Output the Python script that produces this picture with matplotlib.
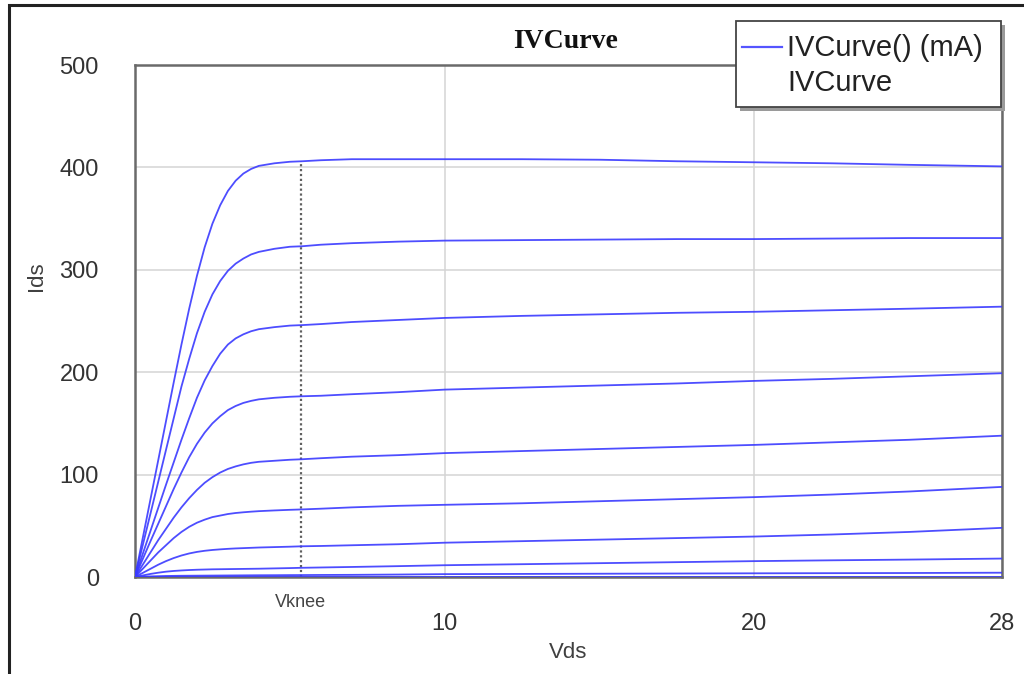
import matplotlib
matplotlib.use("Agg")
import matplotlib.pyplot as plt
from matplotlib.patches import Rectangle
from matplotlib.lines import Line2D

# ---------------- data ----------------
vds = [0, 0.25, 0.5, 0.75, 1, 1.25, 1.5, 1.75, 2, 2.25, 2.5, 2.75, 3, 3.25, 3.5, 3.75,
       4, 4.5, 5, 5.4, 6, 7, 8.5, 10, 12.5, 15, 17.5, 20, 22.5, 25, 28]

ids_1 = [0, 38, 76, 114, 152, 190, 227, 262, 294, 322, 345, 363, 377, 387, 394, 398.5,
         401.5, 404, 405.5, 406, 407, 408, 408, 408, 408, 407.5, 406, 405, 404, 402.5, 401]
ids_2 = [0, 31, 62, 93, 124, 155, 186, 213, 238, 259, 276, 289, 299, 306, 311, 315,
         317.5, 320.5, 322.5, 323, 324.5, 326, 327.5, 328.5, 329, 329.5, 330, 330, 330.5, 331, 331]
ids_3 = [0, 22.5, 45, 67.5, 90, 112, 134, 155, 175, 192, 206, 218, 227, 233, 237, 240,
         242, 244, 245.5, 246, 247, 249, 251, 253, 255, 256.5, 258, 259, 260.5, 262, 264]
ids_4 = [0, 17.5, 35, 52, 69, 86, 102, 117, 130, 141, 150, 157, 163, 167, 170, 172,
         173.5, 175, 176, 176.5, 177, 178.5, 180.5, 183, 185, 187, 189, 191.5, 193.5, 196, 199]
ids_5 = [0, 12, 24, 36, 47, 58, 68, 77, 85, 92, 97.5, 102, 105.5, 108, 110, 111.5,
         112.5, 113.5, 114.5, 115, 116, 117.5, 119, 121, 123, 125, 127, 129, 131.5, 134, 138]
ids_6 = [0, 8, 16, 24, 31, 38, 44, 49, 53, 56, 58.5, 60, 61.5, 62.5, 63.2, 63.8,
         64.3, 65, 65.6, 66, 66.7, 68, 69.5, 70.5, 72, 74, 76, 78, 80.5, 83.5, 88]
ids_7 = [0, 4, 8, 12, 15.5, 18.5, 21, 23, 24.5, 25.6, 26.4, 27, 27.5, 27.9, 28.2, 28.5,
         28.8, 29.2, 29.6, 30, 30.3, 31, 32, 33.5, 35, 36.5, 38, 39.5, 41.5, 44, 48]
ids_8 = [0, 1.5, 3, 4.2, 5.2, 5.9, 6.4, 6.8, 7.1, 7.3, 7.5, 7.6, 7.7, 7.8, 7.9, 8.0,
         8.1, 8.4, 8.7, 9, 9.3, 9.8, 10.6, 11.5, 12.5, 13.5, 14.5, 15.5, 16.3, 17, 18]
ids_9 = [0, 0.3, 0.6, 0.8, 1, 1.1, 1.2, 1.25, 1.3, 1.35, 1.4, 1.45, 1.5, 1.55, 1.6, 1.65,
         1.7, 1.75, 1.85, 1.9, 2, 2.1, 2.4, 2.8, 3, 3.2, 3.4, 3.6, 3.75, 3.9, 4.2]
ids_10 = [0] * len(vds)

ids_curves = [ids_1, ids_2, ids_3, ids_4, ids_5, ids_6, ids_7, ids_8, ids_9, ids_10]

vknee = 5.36
vknee_top = 406
x_ticks = [0, 10, 20, 28]
x_tick_labels = ["0", "10", "20", "28"]
y_ticks = [0, 100, 200, 300, 400, 500]

title = "IVCurve"
legend_labels = ["IVCurve() (mA)", "IVCurve"]

# ---------------- figure ----------------
W, H = 1024, 674
fig = plt.figure(figsize=(W / 100, H / 100), dpi=100)
fig.patch.set_facecolor("white")

def fx(px):
    return px / W

def fy(py):
    return 1 - py / H

ax = fig.add_axes([fx(135), fy(577), fx(1002) - fx(135), fy(65) - fy(577)])

line_color = "#3a3aff"
for ids in ids_curves:
    ax.plot(vds, ids, color=line_color, lw=1.3, alpha=0.9, zorder=3,
            solid_joinstyle="round")

ax.vlines(vknee, 0, vknee_top, colors="#606060", linestyles=(0, (1, 1.2)), lw=1.6, zorder=2)

ax.set_xlim(0, 28)
ax.set_ylim(0, 500)
ax.set_xticks(x_ticks)
ax.set_xticklabels(x_tick_labels)
ax.set_yticks(y_ticks)
ax.set_xticks([vknee], minor=True)
ax.set_xticklabels(["Vknee"], minor=True)

tick_font = "Liberation Sans"
ax.tick_params(axis="both", which="major", length=0, labelsize=17, colors="#333333")
ax.tick_params(axis="x", which="major", pad=26)
ax.tick_params(axis="y", which="major", pad=26)
ax.tick_params(axis="x", which="minor", length=0, labelsize=13, pad=12, colors="#444444")
for lab in ax.get_xticklabels() + ax.get_yticklabels() + ax.get_xticklabels(minor=True):
    lab.set_fontfamily(tick_font)

ax.grid(True, which="major", color="#d4d4d4", lw=1.1)
ax.grid(False, which="minor")
ax.set_axisbelow(True)
for s in ax.spines.values():
    s.set_color("#6a6a6a")
    s.set_linewidth(1.8)

fig.text(fx(568), fy(653), "Vds", ha="center", va="center", fontsize=16,
         fontfamily=tick_font, color="#404040")
fig.text(fx(36), fy(276), "Ids", ha="center", va="center", fontsize=16, rotation=90,
         fontfamily=tick_font, color="#404040")

fig.text(fx(566), fy(41), title, ha="center", va="center", fontsize=20,
         fontfamily="Liberation Serif", fontweight="bold", color="#111111")

# outer frame
fig.patches.append(Rectangle((fx(9), -0.2), 1.5, fy(5) + 0.2, transform=fig.transFigure,
                             fill=False, edgecolor="#222222", lw=2.2, zorder=5))

# legend box with shadow
lx0, ly0, lx1, ly1 = 736, 21, 1001, 107
fig.patches.append(Rectangle((fx(lx0 + 4), fy(ly1 + 4)), fx(lx1 - lx0), fy(ly0) - fy(ly1),
                             transform=fig.transFigure, facecolor="#9a9a9a",
                             edgecolor="none", zorder=6))
fig.patches.append(Rectangle((fx(lx0), fy(ly1)), fx(lx1 - lx0), fy(ly0) - fy(ly1),
                             transform=fig.transFigure, facecolor="white",
                             edgecolor="#444444", lw=1.3, zorder=7))
fig.lines.append(Line2D([fx(742), fx(782)], [fy(47), fy(47)], transform=fig.transFigure,
                        color="#5555ff", lw=1.6, zorder=8))
fig.text(fx(787), fy(48), legend_labels[0], ha="left", va="center", fontsize=21,
         fontfamily=tick_font, color="#222222", zorder=9)
fig.text(fx(787), fy(83), legend_labels[1], ha="left", va="center", fontsize=21,
         fontfamily=tick_font, color="#222222", zorder=9)

fig.savefig("out.png", dpi=100)
